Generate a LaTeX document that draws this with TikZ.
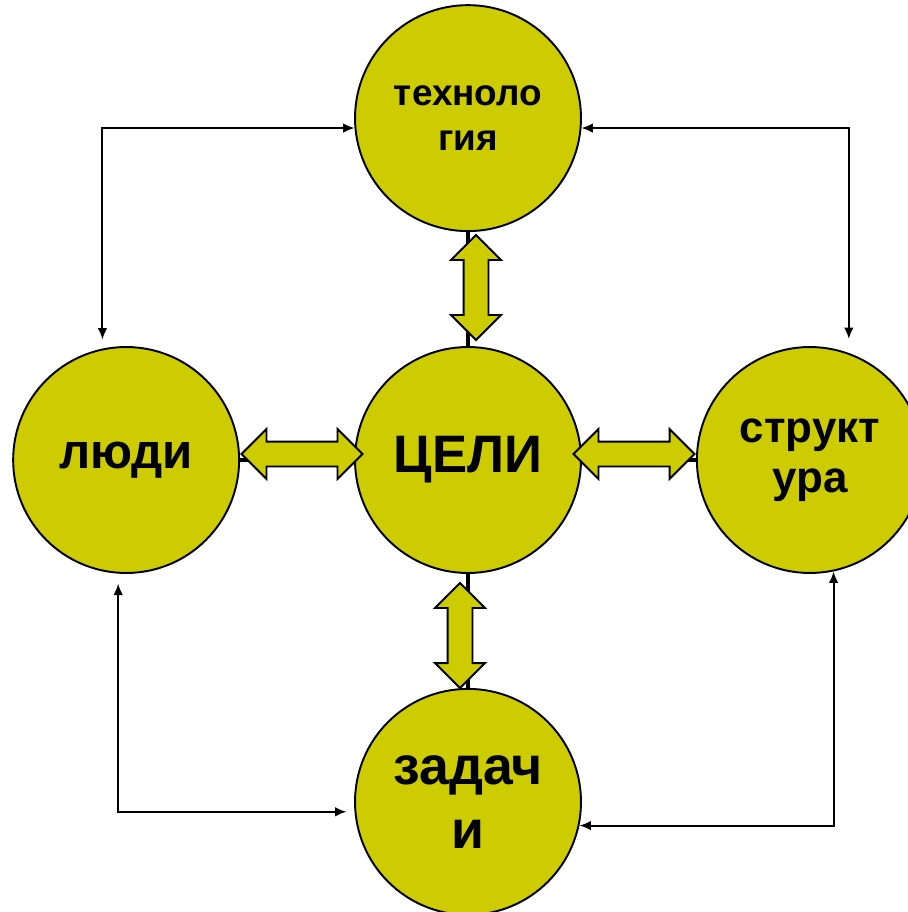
\documentclass[tikz,border=0pt]{standalone}
\usepackage{fontspec}
\setmainfont{Liberation Sans}
\usetikzlibrary{arrows.meta}
\usetikzlibrary{positioning}
\usetikzlibrary{shapes.arrows}
\definecolor{circfill}{RGB}{204,204,0}

\begin{document}
\begin{tikzpicture}[x=0.02cm,y=-0.02cm,node distance=2.28cm,>={Latex[length=6.5pt,width=5.5pt]},
  circ/.style={circle,draw,fill=circfill,line width=1.1pt,minimum size=4.52cm,inner sep=0pt,align=center},
  dbl/.style={double arrow,draw,fill=circfill,line width=1.1pt,minimum height=2.42cm,inner sep=0.23cm,
    double arrow head extend=0.25cm,double arrow tip angle=90,double arrow head indent=0pt},
  link/.style={<->,line width=1.1pt}]
  \useasboundingbox (0,0) rectangle (908,912);
  \node [circ,font={\bfseries\fontsize{30}{36}\selectfont}] (goals) at (468,460) {ЦЕЛИ};
  \node [circ,above=of goals,font={\bfseries\fontsize{21}{26}\selectfont}] (tech) {техноло\\гия};
  \node [circ,left=of goals,font={\bfseries\fontsize{28}{34}\selectfont}] (people) {люди};
  \node [circ,right=of goals,font={\bfseries\fontsize{25}{28.5}\selectfont}] (struct) {структ\\ура};
  \node [circ,below=of goals,font={\bfseries\fontsize{30.5}{36.5}\selectfont}] (tasks) {задач\\и};
  % thick links behind the block arrows
  \draw[line width=2.8pt] (tech) -- (goals);
  \draw[line width=2.8pt] (people) -- (goals);
  \draw[line width=2.8pt] (goals) -- (struct);
  \draw[line width=2.8pt] (goals) -- (tasks);
  \node [dbl,rotate=90,minimum height=2.1cm] (up) at (476,287.5) {};
  \node [dbl,rotate=90,minimum height=2.1cm] (down) at (460,635.5) {};
  \node [dbl] (lft) at (302,454) {};
  \node [dbl] (rgt) at (634,454) {};
  % outer loop
  \draw[link,shorten >=0.18cm] (tech.185) -| (people.102);
  \draw[link,shorten >=0.28cm] (tech.355) -| (struct.70);
  \draw[link] (tasks.348) -| (struct.282);
  \draw[link,shorten <=0.16cm,shorten >=0.2cm] (tasks.185) -| (people.266);
\end{tikzpicture}
\end{document}
